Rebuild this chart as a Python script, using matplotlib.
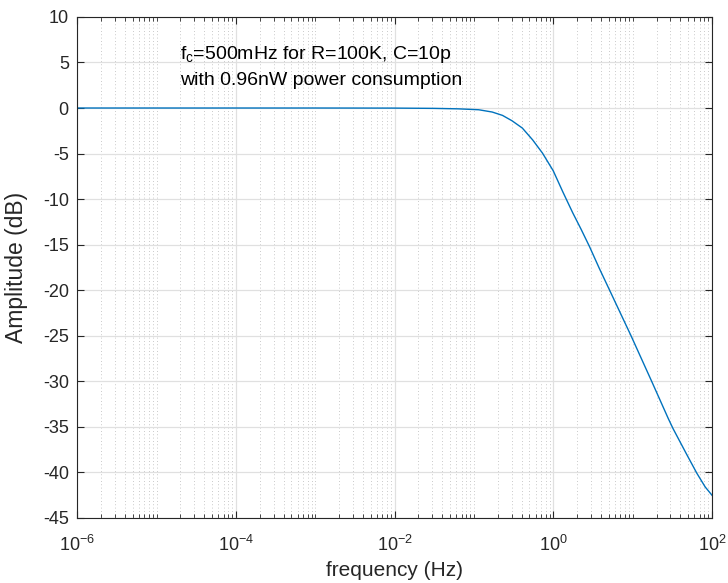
"""Low-pass filter amplitude response (MATLAB-style semilogx)"""
import numpy as np
import matplotlib
matplotlib.use("Agg")
import matplotlib.pyplot as plt
from matplotlib.ticker import FixedLocator, LogLocator, NullFormatter, LogFormatterMathtext

plt.rcParams['font.family'] = ['Liberation Sans', 'DejaVu Sans']
plt.rcParams['axes.unicode_minus'] = False

# values (log10 of frequency in Hz, amplitude in dB)
freq_log10 = [-6, -3, -2, -1.5, -1.2, -0.94, -0.77, -0.64, -0.52, -0.39,
              -0.26, -0.136, 0.0, 0.12, 0.245, 0.35, 0.456, 0.58, 0.71,
              0.98, 1.24, 1.45, 1.51, 1.68, 1.81, 1.915, 2.0]
amp_db = [0, 0, -0.01, -0.04, -0.09, -0.19, -0.44, -0.81, -1.4, -2.2,
          -3.5, -4.95, -6.9, -9.2, -11.5, -13.3, -15.2, -17.6, -20.0,
          -25.0, -30.0, -34.1, -35.2, -38.0, -40.1, -41.6, -42.5]
freq_hz = 10.0 ** np.array(freq_log10)

x_ticks = [1e-6, 1e-4, 1e-2, 1e0, 1e2]
y_ticks = list(range(-45, 11, 5))
note_lines = [r'f$_{\mathregular{c}}$=500mHz for R=100K, C=10p',
              'with 0.96nW power consumption']

fig = plt.figure(figsize=(7.28, 5.83), dpi=100)
ax = fig.add_axes([0.106, 0.1115, 0.872, 0.8595])
ax.semilogx(freq_hz, amp_db, color='#0072BD', lw=1.0, solid_joinstyle='round')

ax.set_xlim(1e-6, 1e2)
ax.set_ylim(-45, 10)
ax.xaxis.set_major_locator(FixedLocator(x_ticks))
ax.xaxis.set_major_formatter(LogFormatterMathtext())
ax.xaxis.set_minor_locator(LogLocator(base=10, subs=np.arange(1, 10), numticks=100))
ax.xaxis.set_minor_formatter(NullFormatter())
ax.set_yticks(y_ticks)

ax.grid(True, which='major', color='#e0e0e0', lw=0.9, ls='-')
ax.grid(True, which='minor', axis='x', color='#b8b8b8', lw=0.6, ls=(0, (1, 3)))
ax.set_axisbelow(True)

for s in ax.spines.values():
    s.set_color('#262626')
    s.set_linewidth(0.8)
ax.tick_params(which='both', direction='in', top=True, right=True,
               colors='#262626', labelsize=13)
ax.tick_params(which='major', length=5)
ax.tick_params(which='minor', length=3)
ax.tick_params(axis='x', which='major', pad=12)
ax.tick_params(axis='y', which='major', pad=6)

ax.set_xlabel('frequency (Hz)', fontsize=15, color='#262626')
ax.set_ylabel('Amplitude (dB)', fontsize=16.5, color='#262626')
ax.xaxis.set_label_coords(0.5, -0.086)
ax.yaxis.set_label_coords(-0.077, 0.5)

ax.text(10**-4.705, 5.4, note_lines[0], fontsize=14, va='baseline', color='#000000')
ax.text(10**-4.705, 2.5, note_lines[1], fontsize=14, va='baseline', color='#000000')

plt.savefig('out.png', dpi=100)
plt.close()
